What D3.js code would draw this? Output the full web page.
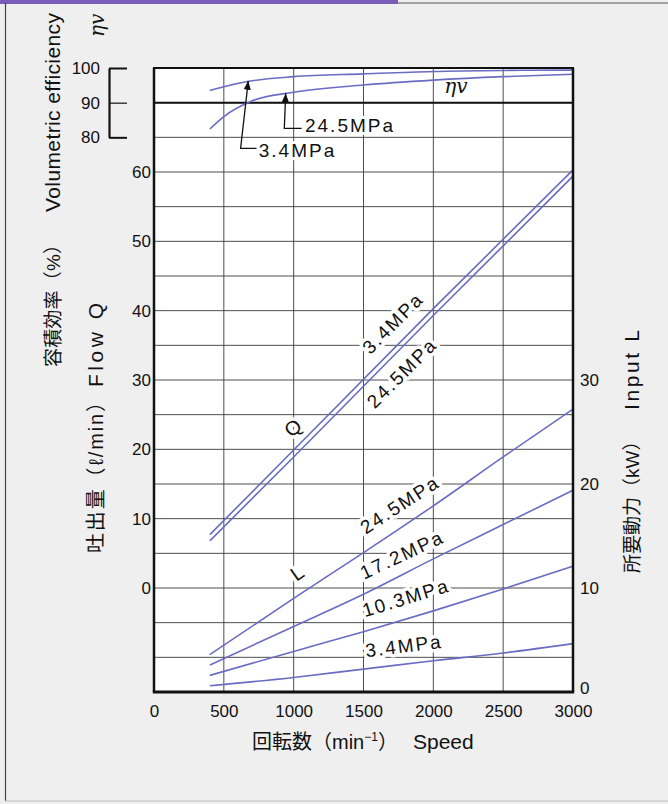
<!DOCTYPE html>
<html><head><meta charset="utf-8">
<script src="https://cdn.jsdelivr.net/npm/d3@7"></script>
<style>
html,body{margin:0;padding:0;background:#efefef;}
svg{display:block;}
</style></head><body>
<svg id="c" width="668" height="804"></svg>
<script>
// ---- data ----
const speedTicks = [0, 500, 1000, 1500, 2000, 2500, 3000];
const flowTicks = [0, 10, 20, 30, 40, 50, 60];
const effTicks = [80, 90, 100];
const powerTicks = [0, 10, 20, 30];

const effSpeeds = [400, 500, 700, 1000, 1500, 2000, 2500, 3000];
const eff34 = [93.5, 94.6, 96.3, 97.5, 98.3, 99.0, 99.3, 99.4];
const eff245 = [82.4, 86.0, 90.5, 93.0, 95.1, 96.5, 97.5, 98.2];

const flowSpeeds = [400, 1000, 2000, 3000];
const flow34 = [7.7, 19.9, 40.3, 60.3];
const flow245 = [6.8, 18.9, 39.3, 59.4];

const powerSpeeds = [400, 1000, 1500, 2000, 2500, 3000];
const power245 = [3.6, 9.0, 13.4, 17.9, 22.6, 27.2];
const power172 = [2.6, 6.3, 9.4, 12.8, 16.1, 19.4];
const power103 = [1.6, 3.9, 5.8, 7.8, 9.9, 12.1];
const power34 = [0.6, 1.4, 2.2, 3.0, 3.75, 4.65];

const pressureLabels = ["3.4MPa", "10.3MPa", "17.2MPa", "24.5MPa"];

// ---- layout ----
const W = 668, H = 804;
const X0 = 154, X1 = 573, Y0 = 68, Y1 = 692;
const svg = d3.select("#c");
const LAT = "'Liberation Sans', Arial, 'Noto Sans CJK JP', sans-serif";
const CJK = "'Liberation Sans', 'Noto Sans CJK JP', sans-serif";
const lineColor = "#6a6cc2";

const x = d3.scaleLinear().domain([0, 3000]).range([X0, X1]);
const yQ = d3.scaleLinear().domain([-15, 75]).range([Y1, Y0]);
const yE = d3.scaleLinear().domain([-80, 100]).range([Y1, Y0]);
const yL = d3.scaleLinear().domain([0, 60]).range([Y1, Y0]);

// page background and frame decorations
svg.append("rect").attr("width", W).attr("height", H).attr("fill", "#efefef");
svg.append("rect").attr("x", 0).attr("y", 0).attr("width", 398).attr("height", 4).attr("fill", "#7b5cb8");
svg.append("line").attr("x1", 398).attr("x2", W).attr("y1", 3).attr("y2", 3).attr("stroke", "#555").attr("stroke-width", 1);
svg.append("line").attr("x1", 5.5).attr("x2", 5.5).attr("y1", 3).attr("y2", 801).attr("stroke", "#444").attr("stroke-width", 1.2);
svg.append("line").attr("x1", 5).attr("x2", W).attr("y1", 801).attr("y2", 801).attr("stroke", "#bdbdbd").attr("stroke-width", 1);

// plot area
svg.append("rect").attr("x", X0).attr("y", Y0).attr("width", X1 - X0).attr("height", Y1 - Y0).attr("fill", "#fff");

const grid = svg.append("g").attr("stroke", "#3a3a3a").attr("stroke-width", 0.9);
grid.selectAll("line.h").data(d3.range(-10, 75, 5)).join("line")
  .attr("x1", X0).attr("x2", X1).attr("y1", d => yQ(d)).attr("y2", d => yQ(d));
grid.selectAll("line.v").data(speedTicks.slice(1, -1)).join("line")
  .attr("y1", Y0).attr("y2", Y1).attr("x1", d => x(d)).attr("x2", d => x(d));

// thick line at 90 %
svg.append("line").attr("x1", X0).attr("x2", X1).attr("y1", yE(90)).attr("y2", yE(90))
  .attr("stroke", "#111").attr("stroke-width", 2);

// curves
const mk = (xs, ys, yS) => xs.map((s, i) => [x(s), yS(ys[i])]);
const curve = d3.line().curve(d3.curveMonotoneX);
const straight = d3.line();
const series = [
  [mk(effSpeeds, eff34, yE), curve],
  [mk(effSpeeds, eff245, yE), curve],
  [mk(flowSpeeds, flow34, yQ), straight],
  [mk(flowSpeeds, flow245, yQ), straight],
  [mk(powerSpeeds, power245, yL), curve],
  [mk(powerSpeeds, power172, yL), curve],
  [mk(powerSpeeds, power103, yL), curve],
  [mk(powerSpeeds, power34, yL), curve]
];
svg.append("g").selectAll("path").data(series).join("path")
  .attr("d", d => d[1](d[0])).attr("fill", "none")
  .attr("stroke", lineColor).attr("stroke-width", 1.6);

// in-plot labels (with white halo that interrupts the grid)
function label(txt, sx, vy, yS, rot, opts = {}) {
  return svg.append("text")
    .attr("transform", `translate(${x(sx)},${yS(vy)}) rotate(${rot})`)
    .attr("text-anchor", "middle").attr("dominant-baseline", "central")
    .attr("font-family", LAT).attr("font-size", opts.size || 19)
    .attr("letter-spacing", opts.ls == null ? 2 : opts.ls)
    .attr("fill", "#111")
    .attr("stroke", "#fff").attr("stroke-width", opts.halo || 7)
    .attr("stroke-linejoin", "round").attr("paint-order", "stroke")
    .text(txt);
}
label("Q", 995, 23.1, yQ, -42, {ls: 0, size: 20});
label(pressureLabels[0], 1711, 38.2, yQ, -45);
label(pressureLabels[3], 1776, 31.0, yQ, -45);
label("L", 1024, 11.44, yL, -35, {ls: 0, size: 20});
label(pressureLabels[3], 1761, 18.0, yL, -33);
label(pressureLabels[2], 1776, 13.2, yL, -25);
label(pressureLabels[1], 1804, 9.04, yL, -17);
label(pressureLabels[0], 1790, 4.42, yL, -7);

// eta-v label inside plot
svg.append("text").attr("x", x(2162)).attr("y", yE(92.8)).attr("text-anchor", "middle")
  .attr("font-family", "'DejaVu Serif', serif").attr("font-style", "italic").attr("font-size", 20)
  .attr("fill", "#111").text("ηv");

// leader arrows for efficiency curves
svg.append("defs").append("marker").attr("id", "ah").attr("viewBox", "0 0 10 10")
  .attr("refX", 10).attr("refY", 5).attr("markerWidth", 9).attr("markerHeight", 9)
  .attr("markerUnits", "userSpaceOnUse").attr("orient", "auto")
  .append("path").attr("d", "M0,1 L10,5 L0,9 Z").attr("fill", "#111");
const leaders = [
  {pts: [[735, 76.8], [620, 76.8], [675, 96.3]], txt: pressureLabels[0], tx: 750, ty: 76.2},
  {pts: [[1057, 82.6], [933, 82.6], [943, 92.7]], txt: pressureLabels[3], tx: 1081, ty: 83.4}
];
leaders.forEach(l => {
  svg.append("path").attr("d", straight(l.pts.map(p => [x(p[0]), yE(p[1])])))
    .attr("fill", "none").attr("stroke", "#111").attr("stroke-width", 1.3).attr("marker-end", "url(#ah)");
  svg.append("text").attr("x", x(l.tx)).attr("y", yE(l.ty)).attr("dominant-baseline", "central")
    .attr("font-family", LAT).attr("font-size", 19).attr("letter-spacing", 2)
    .attr("fill", "#111").attr("stroke", "#fff").attr("stroke-width", 6).attr("paint-order", "stroke")
    .attr("stroke-linejoin", "round").text(l.txt);
});

// frame
const fr = svg.append("g").attr("stroke", "#111");
fr.append("line").attr("x1", X0 - 1).attr("x2", X1 + 1).attr("y1", Y0).attr("y2", Y0).attr("stroke-width", 2);
fr.append("line").attr("x1", X0 - 1.2).attr("x2", X1 + 1.2).attr("y1", Y1).attr("y2", Y1).attr("stroke-width", 3);
fr.append("line").attr("x1", X0).attr("x2", X0).attr("y1", Y0).attr("y2", Y1).attr("stroke-width", 2.5);
fr.append("line").attr("x1", X1).attr("x2", X1).attr("y1", Y0).attr("y2", Y1).attr("stroke-width", 2.5);

// axes
const fmt = d3.format("d");
function styleAxis(g, size) {
  g.selectAll("text").attr("font-family", LAT).attr("font-size", size || 17).attr("fill", "#111");
}
const ax = svg.append("g").attr("transform", `translate(0,${Y1})`)
  .call(d3.axisBottom(x).tickValues(speedTicks).tickFormat(fmt).tickSize(0).tickPadding(13));
ax.select(".domain").remove(); styleAxis(ax);

const aq = svg.append("g").attr("transform", `translate(${X0},0)`)
  .call(d3.axisLeft(yQ).tickValues(flowTicks).tickFormat(fmt).tickSize(0).tickPadding(3));
aq.select(".domain").remove(); styleAxis(aq);

const al = svg.append("g").attr("transform", `translate(${X1},0)`)
  .call(d3.axisRight(yL).tickValues(powerTicks).tickFormat(fmt).tickSize(0).tickPadding(7));
al.select(".domain").remove(); styleAxis(al);
al.selectAll(".tick").filter(d => d === 0).select("text").attr("dy", "0.1em");

const effSub = yE.copy().domain([80, 100]).range([yE(80), yE(100)]);
const ae = svg.append("g").attr("transform", "translate(109,0)")
  .call(d3.axisLeft(effSub).tickValues(effTicks).tickFormat(fmt).tickSizeInner(-18).tickSizeOuter(0).tickPadding(9));
ae.select(".domain").attr("stroke", "#111").attr("stroke-width", 2.2);
ae.selectAll(".tick line").attr("stroke", "#111").attr("stroke-width", d => d === 90 ? 1.2 : 2);
styleAxis(ae);

// axis titles: spread to the reference extent only when the natural length is shorter
function title(txt, tx, ty, rot, len, opts = {}) {
  const t = svg.append("text")
    .attr("transform", `translate(${tx},${ty}) rotate(${rot})`)
    .attr("font-family", opts.serif ? "'DejaVu Serif', serif" : CJK)
    .attr("font-style", opts.serif ? "italic" : null)
    .attr("font-size", opts.size || 21).attr("fill", "#111")
    .text(txt);
  if (len) {
    const n = t.node().getComputedTextLength();
    if (n < len) t.attr("textLength", len).attr("lengthAdjust", "spacing");
  }
  return t;
}
title("容積効率（%）", 60, 367, -90, 132, {size: 19});
title("Volumetric efficiency", 60, 212, -90, 199);
title("吐出量（ℓ/min）", 103, 553, -90, 161, {size: 20});
title("Flow Q", 103, 387, -90, 84);
title("ηv", 104, 37, -90, null, {serif: true, size: 20});
title("所要動力（kW）", 639, 573, -90, 140, {size: 19});
title("Input L", 639, 410, -90, 80);

const bt = title("", 252, 749, 0, null, {size: 20});
bt.append("tspan").text("回転数（min");
bt.append("tspan").attr("font-size", 12).attr("dy", -8).text("−1");
bt.append("tspan").attr("dy", 8).text("）");
title("Speed", 413, 749, 0, 57);
</script>
</body></html>
